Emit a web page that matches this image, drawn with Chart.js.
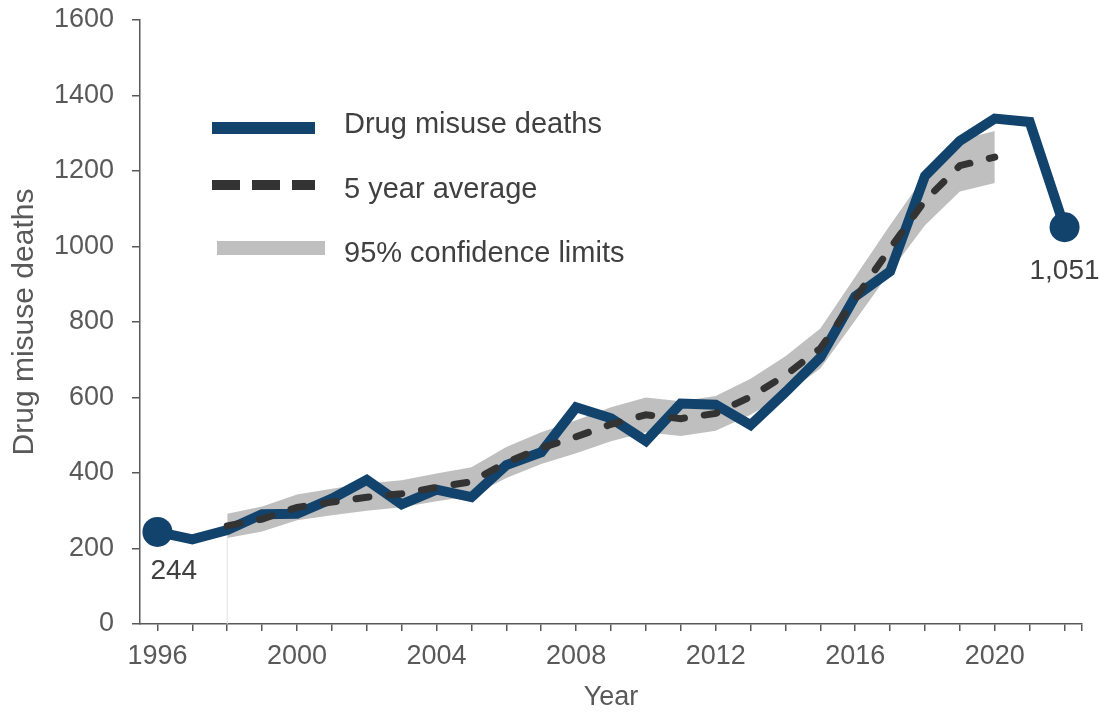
<!DOCTYPE html>
<html>
<head>
<meta charset="utf-8">
<title>Drug misuse deaths</title>
<script src="https://cdn.jsdelivr.net/npm/chart.js@4.4.1/dist/chart.umd.min.js"></script>
<style>
  html, body { margin: 0; padding: 0; background: #fff; }
  #wrap { position: relative; width: 1099px; height: 714px; }
</style>
</head>
<body>
<div id="wrap"><canvas id="chart"></canvas></div>
<script>
// Data
const years = [1996, 1997, 1998, 1999, 2000, 2001, 2002, 2003, 2004, 2005, 2006, 2007, 2008,
               2009, 2010, 2011, 2012, 2013, 2014, 2015, 2016, 2017, 2018, 2019, 2020, 2021, 2022];
const deaths = [244, 224, 249, 291, 292, 332, 382, 317, 356, 336, 421, 455, 574,
                545, 485, 584, 581, 527, 614, 706, 868, 934, 1187, 1280, 1339, 1330, 1051];

// 5 year average and 95% limits (1998 - 2020)
const avgYears = [1998, 1999, 2000, 2001, 2002, 2003, 2004, 2005, 2006, 2007, 2008, 2009,
                  2010, 2011, 2012, 2013, 2014, 2015, 2016, 2017, 2018, 2019, 2020];
const avgDeaths = [260, 278, 309, 323, 336, 345, 362, 377, 428, 466, 496, 529,
                   554, 544, 558, 602, 659, 730, 862, 995, 1122, 1214, 1237];
const lowerLimit = [228, 245, 275, 288, 300, 309, 325, 339, 387, 424, 452, 484,
                    508, 498, 512, 554, 609, 677, 804, 933, 1056, 1146, 1168];
const upperLimit = [292, 311, 343, 358, 372, 381, 399, 415, 469, 508, 540, 574,
                    600, 590, 604, 650, 709, 783, 920, 1057, 1188, 1282, 1306];

const xTickLabels = ['1996', '2000', '2004', '2008', '2012', '2016', '2020'];
const yTickValues = [0, 200, 400, 600, 800, 1000, 1200, 1400, 1600];

// Styles
const BLUE = '#12436D';
const DARK = '#333333';
const BAND = '#BFBFBF';
const AXIS = '#595959';
const FONT = '"Liberation Sans", Arial, sans-serif';

Chart.defaults.font.family = FONT;

const toPoints = (xs, ys) => xs.map((x, i) => ({ x: x, y: ys[i] }));

// legend + end labels
const extrasPlugin = {
  id: 'extras',
  afterDatasetsDraw(chart) {
    const ctx = chart.ctx;
    const pts = chart.getDatasetMeta(0).data;
    const first = pts[0];
    const last = pts[pts.length - 1];

    ctx.save();
    ctx.fillStyle = '#404040';
    ctx.font = '28px ' + FONT;
    ctx.textBaseline = 'middle';
    ctx.textAlign = 'left';
    ctx.fillText(deaths[0].toLocaleString('en-GB'), first.x - 7, first.y + 39);
    ctx.textAlign = 'center';
    ctx.fillText(deaths[deaths.length - 1].toLocaleString('en-GB'), last.x, last.y + 44);
    ctx.restore();
  },
  afterDraw(chart) {
    const ctx = chart.ctx;
    const ds = chart.data.datasets;
    ctx.save();

    // Drug misuse deaths
    ctx.strokeStyle = ds[0].borderColor;
    ctx.lineWidth = 12;
    ctx.beginPath();
    ctx.moveTo(212, 128);
    ctx.lineTo(315, 128);
    ctx.stroke();

    // 5 year average
    ctx.strokeStyle = ds[1].borderColor;
    ctx.lineWidth = 10;
    ctx.setLineDash([28, 12]);
    ctx.beginPath();
    ctx.moveTo(212, 185);
    ctx.lineTo(315, 185);
    ctx.stroke();
    ctx.setLineDash([]);

    // 95% confidence limits
    ctx.fillStyle = ds[3].backgroundColor;
    ctx.fillRect(217, 241, 108, 14);

    ctx.fillStyle = '#404040';
    ctx.font = '29px ' + FONT;
    ctx.textBaseline = 'middle';
    ctx.textAlign = 'left';
    ctx.fillText(ds[0].label, 344, 125);
    ctx.fillText(ds[1].label, 344, 190);
    ctx.fillText(ds[3].label, 344, 254);
    ctx.restore();
  }
};

const ctx = document.getElementById('chart').getContext('2d');

const chart = new Chart(ctx, {
  type: 'line',
  data: {
    datasets: [
      {
        label: 'Drug misuse deaths',
        data: toPoints(years, deaths),
        borderColor: BLUE,
        backgroundColor: BLUE,
        borderWidth: 10,
        tension: 0,
        pointRadius: c => (c.dataIndex === 0 || c.dataIndex === deaths.length - 1) ? 15 : 0,
        pointBackgroundColor: BLUE,
        pointBorderWidth: 0,
        order: 1
      },
      {
        label: '5 year average',
        data: toPoints(avgYears, avgDeaths),
        borderColor: DARK,
        borderWidth: 7,
        borderDash: [13, 20],
        borderCapStyle: 'round',
        tension: 0,
        pointRadius: 0,
        order: 0
      },
      {
        label: 'lower limit',
        data: toPoints(avgYears, lowerLimit),
        borderWidth: 0,
        borderColor: 'rgba(0,0,0,0)',
        pointRadius: 0,
        tension: 0,
        fill: false,
        order: 3
      },
      {
        label: '95% confidence limits',
        data: toPoints(avgYears, upperLimit),
        borderWidth: 0,
        borderColor: 'rgba(0,0,0,0)',
        backgroundColor: BAND,
        pointRadius: 0,
        tension: 0,
        fill: '-1',
        order: 2
      },
      {
        label: 'start marker',
        data: [{ x: avgYears[0], y: 0 }, { x: avgYears[0], y: lowerLimit[0] }],
        borderColor: '#E2E2E2',
        borderWidth: 1,
        pointRadius: 0,
        order: 4
      }
    ]
  },
  plugins: [extrasPlugin],
  options: {
    responsive: true,
    maintainAspectRatio: false,
    animation: false,
    layout: { padding: { top: 20, right: 17, left: 0, bottom: 0 } },
    plugins: {
      legend: { display: false },
      tooltip: { enabled: false }
    },
    scales: {
      x: {
        type: 'linear',
        min: 1995.5,
        max: 2022.5,
        afterBuildTicks: axis => {
          axis.ticks = years.map(v => ({ value: v })).concat([{ value: 2022.5 }]);
        },
        afterFit: s => { s.height = 90; s.paddingLeft = 0; s.paddingRight = 0; },
        ticks: {
          autoSkip: false,
          maxRotation: 0,
          padding: 9,
          color: AXIS,
          font: { size: 27 },
          callback: v => xTickLabels.includes(String(v)) ? String(v) : ''
        },
        grid: { drawOnChartArea: false, tickLength: 7, color: AXIS, lineWidth: 1.5 },
        border: { color: AXIS, width: 1.5 },
        title: {
          display: true,
          text: 'Year',
          color: AXIS,
          font: { size: 27 },
          padding: { top: 0, bottom: 0 }
        }
      },
      y: {
        min: 0,
        max: 1600,
        afterBuildTicks: axis => {
          axis.ticks = yTickValues.map(v => ({ value: v }));
        },
        afterFit: s => { s.width = 140; s.paddingTop = 0; s.paddingBottom = 0; },
        ticks: {
          padding: 18,
          color: AXIS,
          font: { size: 27 },
          callback: v => String(v)
        },
        grid: { drawOnChartArea: false, tickLength: 8, color: AXIS, lineWidth: 1.5 },
        border: { color: AXIS, width: 1.5 },
        title: {
          display: true,
          text: 'Drug misuse deaths',
          color: AXIS,
          font: { size: 30 },
          padding: { top: 7, bottom: 0 }
        }
      }
    }
  }
});
</script>
</body>
</html>
